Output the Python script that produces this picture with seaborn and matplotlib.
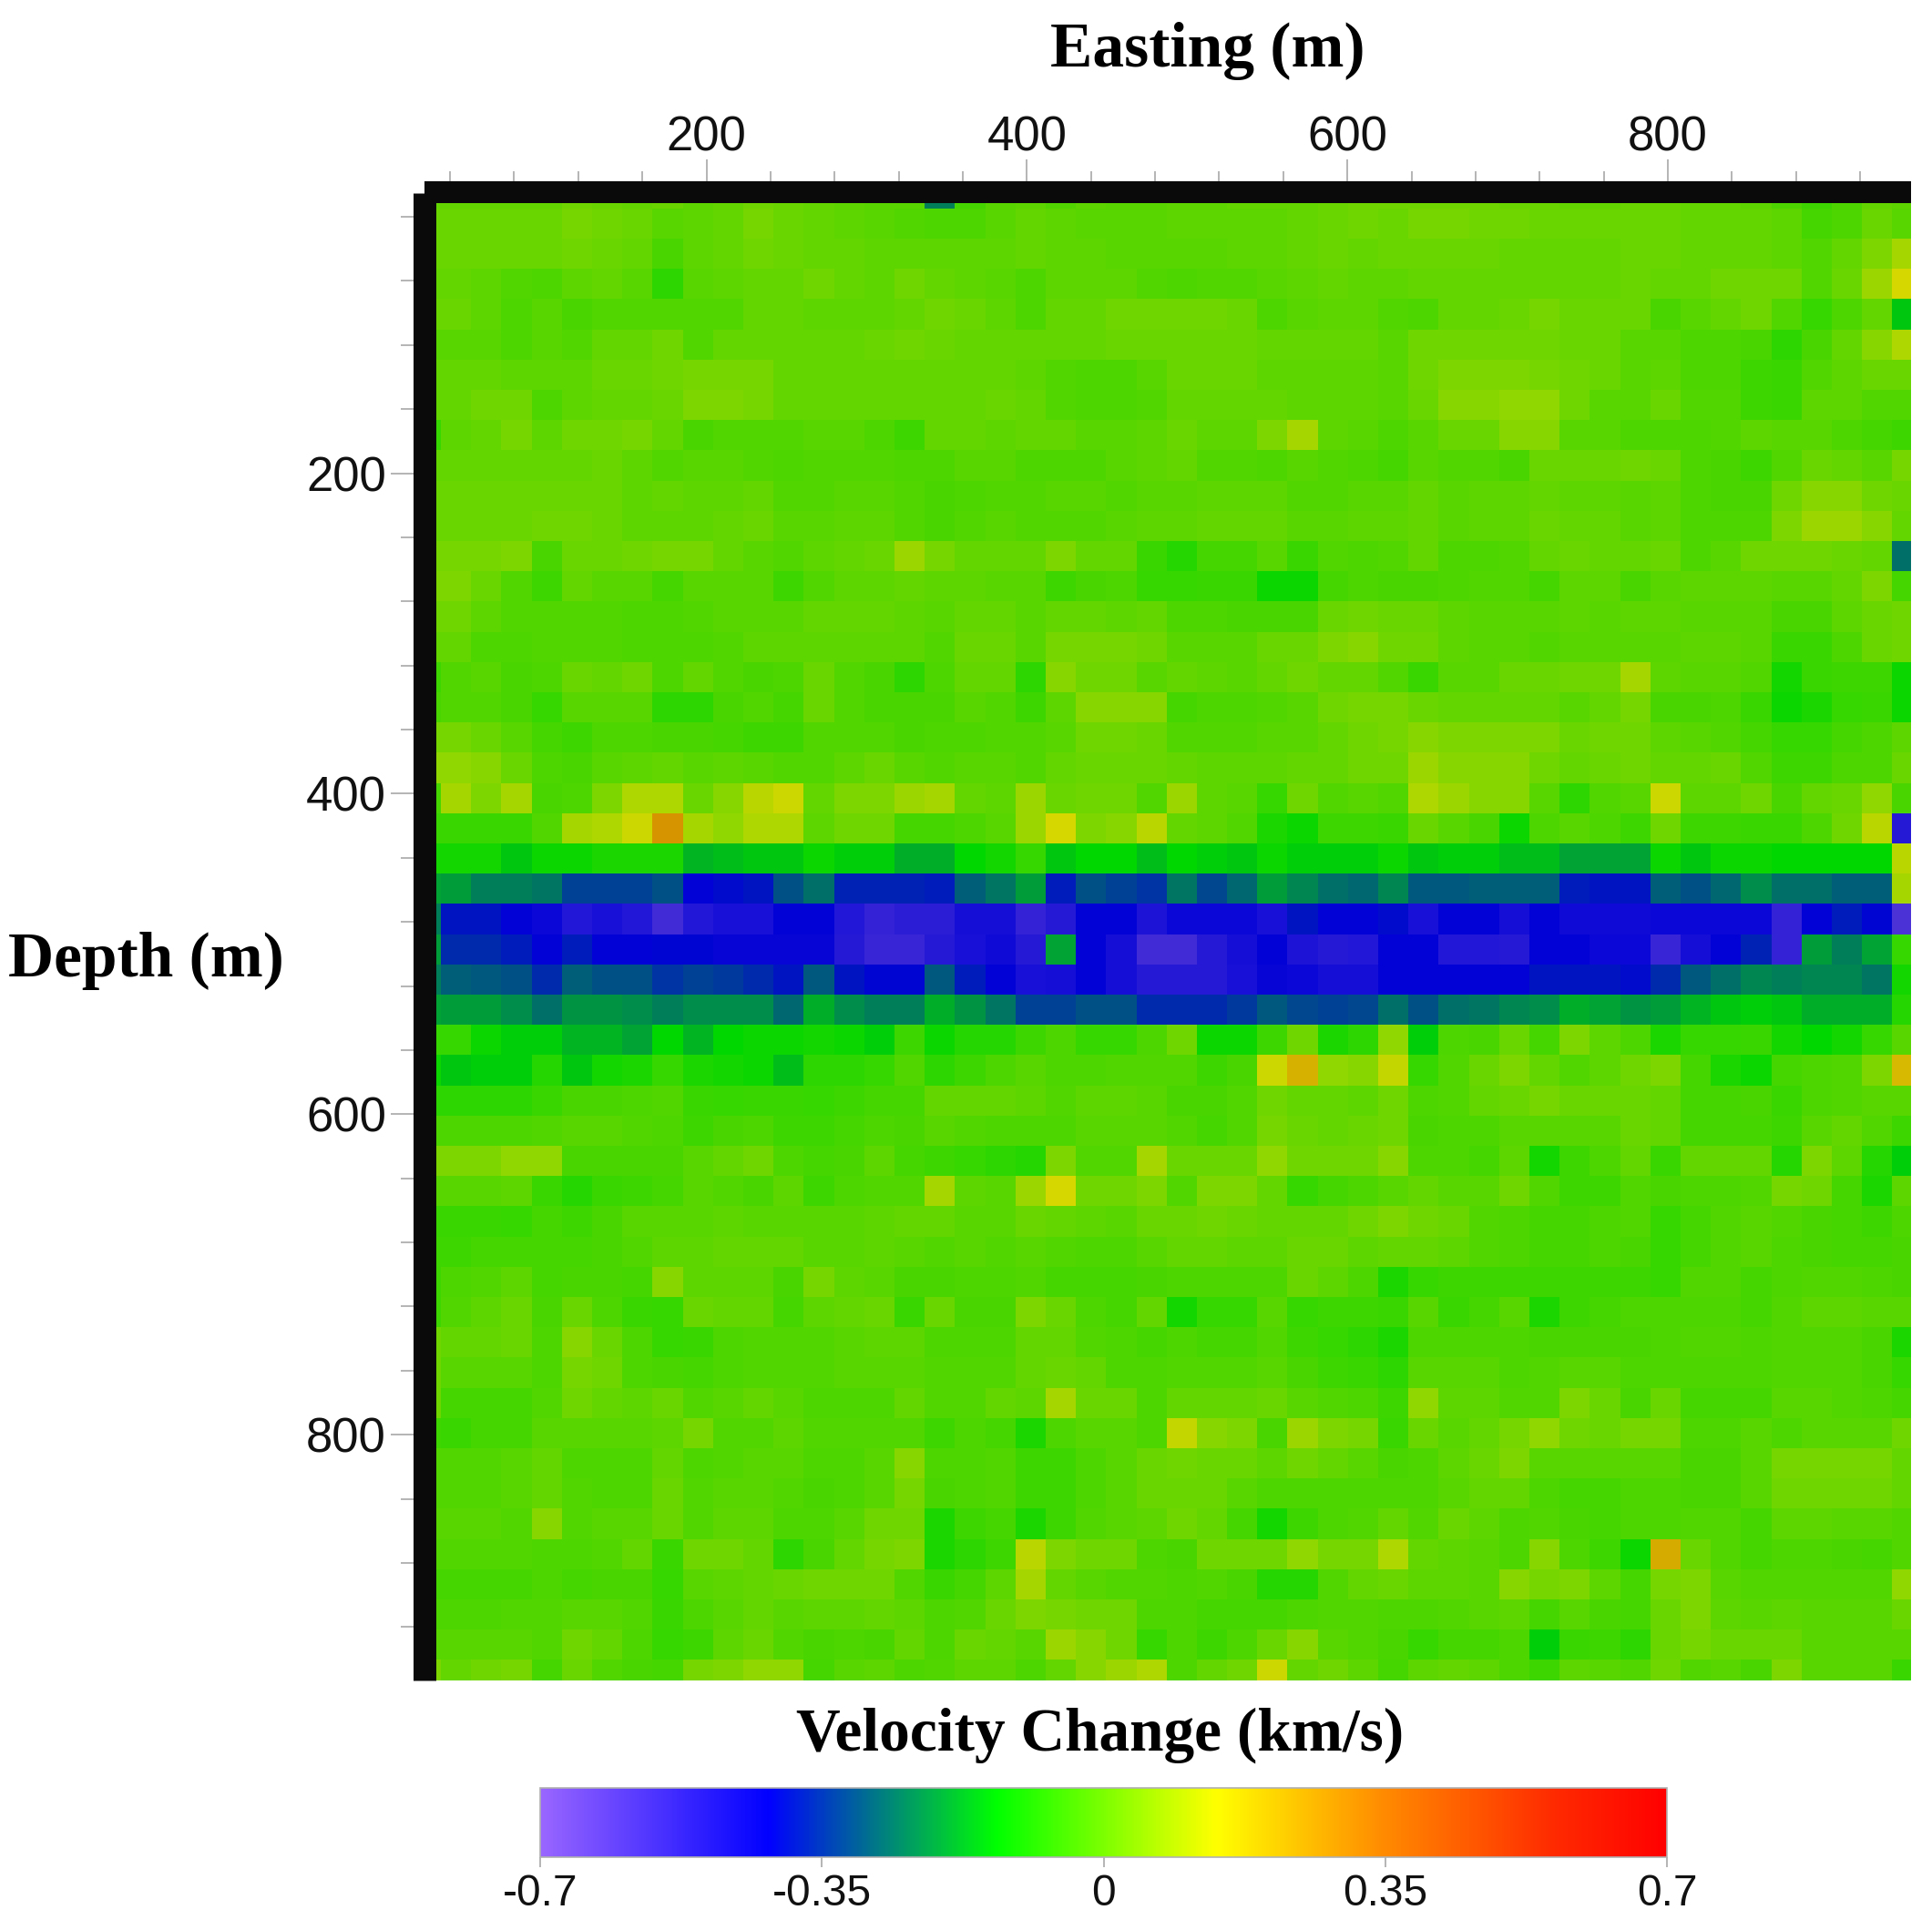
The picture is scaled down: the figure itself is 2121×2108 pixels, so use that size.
import numpy as np
import pandas as pd
import seaborn as sns
import matplotlib
matplotlib.use("Agg")
import matplotlib.pyplot as plt
from matplotlib.cm import ScalarMappable
from matplotlib.colors import LinearSegmentedColormap, ListedColormap, Normalize

# velocity change, in 1/100 km/s, one list per depth row
dv_top = [
    [1,1,1,1,1,3,2,1,2,0,1,3,2,1,0,-1,-1,-25,-5,-1,0,-2,0,-1,-1, 0,0,1,1,1,2,3,3,3,3,3,2,2,1,1,2,2,1,1,0,-3,-6,-3,1,0],
    [2,2,2,2,2,4,3,2,-1,0,1,4,2,1,0,-1,-2,-3,-3,-1,1,0,-1,-1,-1, 0,0,0,0,1,2,3,2,4,4,3,3,2,2,2,2,2,1,1,1,0,-5,-3,2,-1],
    [2,2,2,2,2,3,2,1,-4,0,1,3,2,1,1,0,0,0,0,0,1,0,0,-1,-1, -1,-1,0,0,1,2,1,2,2,2,2,1,1,1,1,2,2,1,1,1,0,-2,1,5,9],
    [1,1,0,-2,-3,0,1,-1,-9,-1,0,1,1,3,1,0,3,1,0,-1,-3,0,0,0,-2, -3,-2,-2,-1,0,1,0,0,1,1,1,1,1,1,1,2,1,1,3,3,3,-2,2,8,14],
    [2,2,0,-3,-1,-4,-2,-2,-2,-2,-2,1,1,0,0,0,1,3,2,0,-3,1,1,3,3, 3,3,2,-3,-1,0,0,-2,-3,1,1,2,4,2,2,2,-4,-1,1,3,-2,-8,-3,1,-16],
    [-1,-1,-1,-3,-1,-2,1,1,3,-2,1,1,1,1,1,2,3,2,1,1,1,1,1,2,2, 2,2,2,1,1,1,1,-1,3,3,3,3,3,2,2,-1,-1,-3,-3,-4,-9,-4,1,6,10],
    [1,1,1,0,0,0,2,2,3,4,4,4,1,1,1,1,1,1,1,1,0,-2,-3,-3,-1, 2,2,2,0,0,0,0,-1,3,5,5,5,4,3,2,-1,0,-3,-3,-6,-7,-2,0,2,2],
    [1,1,3,3,-3,0,1,1,2,5,5,4,1,1,1,1,1,1,1,2,1,-2,-3,-3,-2, 1,1,1,1,0,0,0,-1,2,6,6,7,7,3,-1,-1,2,-2,-2,-6,-7,0,0,-2,-2],
    [-8,0,1,4,0,3,3,4,1,-4,-2,-2,-2,-1,-1,-3,-6,1,1,0,1,1,-1,-1,0, 2,0,0,5,9,0,-1,-3,-1,2,2,6,6,-1,-1,-3,-3,-3,-2,0,-1,-1,-3,-5,-6],
    [1,1,1,1,1,1,2,0,-2,-1,-1,-2,-3,-2,-2,-2,-3,-3,-1,-1,-3,-3,-3,-1,0, 1,-2,-2,-3,-1,-2,-3,-5,-1,-2,-2,-4,2,2,2,3,2,-3,-4,-6,-2,2,1,-1,4],
    [2,2,2,2,2,2,2,0,1,0,0,1,-2,-2,-1,-1,-2,-4,-3,-2,-2,-1,-1,-2,-1, -1,0,0,0,-2,-2,-1,-1,1,-1,0,0,1,0,0,-1,0,-3,-4,-4,3,6,6,3,2],
    [2,2,2,2,3,3,2,0,0,0,1,2,-1,-1,0,0,-2,-4,-2,-1,-2,-2,-2,-1,0, 0,1,1,1,-1,-1,0,0,1,-1,0,0,2,1,1,-1,0,-3,-3,-3,5,8,8,6,1],
    [4,4,4,5,-4,2,2,3,4,4,1,-1,-2,0,1,2,8,4,1,1,1,5,1,1,-7, -10,-5,-5,-1,-7,-2,-3,-2,1,-3,-3,-2,1,2,1,1,2,-3,-1,3,3,3,2,1,-27],
    [5,5,2,-2,-6,1,-1,-1,-5,-1,-1,-1,-6,-2,0,0,1,0,0,-1,-1,-6,-4,-3,-8, -8,-7,-7,-13,-13,-5,-3,-4,-4,-3,-2,-2,-5,0,0,-4,-1,0,0,0,-1,-1,1,5,-5],
    [3,3,0,-2,-2,-2,-2,-3,-3,-2,-1,-1,-1,1,1,1,0,-1,1,1,-1,1,1,0,1, -3,-3,-4,-4,-4,2,3,2,2,0,-1,-1,-1,0,-1,0,0,-1,-1,-1,-4,-4,0,2,3],
    [1,1,-3,-3,-2,-2,-2,-3,-3,-3,-2,0,0,0,0,0,0,-2,2,2,-1,4,4,4,3, -1,-1,-1,2,2,5,6,3,3,0,-1,-1,-2,-1,-1,-1,-1,0,0,-1,-7,-7,-3,2,3],
    [-6,-2,-1,-4,-3,2,1,3,-3,1,-2,-4,-3,2,-2,-4,-9,-3,1,1,-9,6,3,3,-1, 1,0,-1,1,3,1,1,-2,-7,-1,-1,2,2,3,3,9,0,-1,-1,-2,-12,-7,-6,-6,-13],
    [-4,-2,-2,-4,-8,-1,-1,-1,-9,-9,-4,-2,-5,2,-2,-4,-4,-4,-1,-2,-6,0,6,6,6, -5,-3,-3,-2,-1,3,4,4,2,1,1,1,1,-1,1,4,-4,-4,-3,-7,-13,-11,-8,-7,-13],
    [4,4,2,-1,-5,-6,-3,-3,-4,-4,-5,-6,-6,-2,-2,-2,-4,-3,-3,-2,-2,-1,3,3,2, -2,-2,-2,-1,-1,1,3,4,6,5,5,5,5,2,3,3,0,-1,-2,-5,-8,-8,-5,-3,0],
    [7,7,6,2,-3,-4,-1,0,1,-1,0,-1,-2,-2,0,2,-1,-2,-1,-1,-2,1,2,2,2, 1,0,0,0,1,1,3,3,8,6,6,6,3,1,2,3,1,1,2,-2,-6,-6,-3,-3,2],
    [-5,9,5,9,-4,-3,5,10,10,2,6,11,13,1,5,5,8,9,1,0,8,2,3,3,-2, 8,0,-1,-8,3,-2,-1,-2,10,8,6,6,-1,-9,-2,-1,13,0,0,3,-4,1,2,7,-4],
    [-7,-7,-7,-7,-2,9,10,13,28,9,7,10,10,0,3,3,-5,-5,-3,-1,8,14,5,6,11, 1,0,-2,-11,-13,-6,-6,-7,2,-1,-4,-13,-3,-1,-3,-6,3,-6,-6,-7,-7,-3,3,11,-50],
    [-12,-12,-12,-16,-13,-13,-11,-11,-11,-18,-17,-16,-16,-13,-15,-15,-19,-19,-14,-12,-8,-16,-14,-14,-17, -14,-15,-16,-13,-15,-15,-15,-13,-16,-15,-15,-17,-17,-20,-20,-20,-13,-16,-13,-13,-14,-14,-14,-14,11],
]

dv_band = [
    [-20,-21,-25,-25,-26,-33,-33,-33,-31,-42,-40,-39,-31,-27,-37,-37,-37,-38,-29,-26,-21,-38,-31,-33,-35, -26,-32,-28,-21,-24,-27,-28,-24,-30,-30,-29,-29,-29,-38,-39,-39,-29,-31,-28,-23,-27,-27,-29,-29,9],
    [-25,-39,-39,-42,-44,-49,-47,-49,-56,-49,-47,-47,-42,-42,-49,-53,-51,-51,-46,-46,-53,-50,-42,-42,-48, -44,-44,-44,-47,-39,-42,-42,-40,-47,-42,-42,-46,-42,-45,-45,-45,-44,-44,-44,-44,-53,-42,-38,-41,-58],
    [-21,-36,-36,-38,-42,-38,-42,-42,-41,-41,-43,-43,-43,-43,-50,-54,-54,-50,-47,-45,-50,-20,-42,-46,-56, -56,-50,-46,-42,-48,-50,-49,-42,-42,-49,-49,-50,-42,-42,-44,-44,-54,-46,-42,-37,-53,-21,-25,-20,-8],
    [-25,-29,-30,-31,-36,-29,-31,-31,-35,-33,-34,-36,-39,-30,-39,-41,-41,-30,-38,-42,-47,-46,-42,-46,-50, -50,-50,-47,-43,-44,-46,-46,-42,-42,-42,-42,-42,-39,-39,-39,-40,-36,-30,-27,-24,-25,-24,-24,-26,-12],
    [-20,-21,-21,-23,-27,-22,-22,-23,-25,-23,-23,-23,-28,-19,-23,-25,-25,-19,-22,-26,-33,-33,-31,-31,-36, -36,-36,-34,-30,-32,-33,-32,-27,-31,-27,-26,-24,-23,-19,-20,-22,-21,-18,-16,-15,-16,-19,-19,-19,-10],
]

dv_bottom = [
    [-8,-8,-13,-15,-15,-18,-18,-20,-14,-18,-14,-13,-13,-12,-13,-15,-6,-13,-10,-10,-6,-3,-8,-8,-3, 3,-13,-13,-6,3,-11,-9,7,-15,-3,-4,2,-5,5,0,-3,-11,-8,-8,-7,-12,-14,-12,-8,-1],
    [-13,-16,-15,-15,-10,-16,-12,-11,-8,-11,-12,-13,-17,-9,-9,-8,-2,-9,-6,-3,-1,-3,-3,-2,-2, -2,-6,-4,13,22,7,6,12,-8,-2,2,5,1,-2,0,3,5,-5,-11,-13,-5,-3,-2,5,20],
    [-9,-9,-9,-9,-7,-4,-4,-3,-2,-7,-8,-7,-7,-8,-6,-5,-5,1,1,1,0,-2,0,0,-1, -4,-4,-2,3,1,1,0,3,-3,-2,1,2,4,2,2,2,1,-5,-5,-4,-7,-3,-2,-1,-1],
    [-3,-3,-3,-3,-2,-1,-1,-2,-3,-6,-4,-3,-6,-6,-5,-3,-4,-1,-2,-3,-3,-3,-1,-1,-1, -2,-5,-2,4,2,1,2,3,-4,-3,-3,-1,-1,-1,-1,2,1,-5,-5,-5,-6,-1,1,-2,-6],
    [5,5,5,7,7,-4,-4,-4,-4,-1,1,3,-3,-5,-4,0,-5,-6,-8,-9,-10,5,-2,-2,9, 2,2,2,7,3,3,3,6,-3,-3,-5,0,-12,-6,-3,1,-7,1,1,1,-10,5,0,-10,-15],
    [-1,-1,-1,0,-7,-10,-7,-6,-5,-1,-2,-4,0,-6,-3,-2,-2,9,0,-1,8,14,3,3,5, -2,5,5,1,-8,-5,-3,-1,1,-1,-1,3,-2,-6,-6,-2,-4,-3,-3,-2,4,3,-5,-11,0],
    [-7,-7,-7,-8,-5,-6,-4,-1,-1,-1,0,-1,-1,-1,-1,0,1,1,-1,-1,2,1,0,-1,2, 2,3,2,1,1,1,3,5,3,2,-2,-3,-5,-5,-3,-2,-8,-5,-2,-1,-2,-4,-5,-6,-3],
    [-6,-6,-5,-5,-5,-5,-4,-2,0,0,1,1,1,-1,-1,0,-1,-2,-1,-2,-1,-2,-3,-3,-1, 1,1,0,0,2,2,0,1,1,0,-2,-3,-5,-5,-3,-4,-8,-5,-2,-1,-3,-4,-5,-5,-4],
    [-6,-3,-2,0,-5,-4,-4,-5,6,0,0,0,-4,4,0,-1,-4,-4,-3,-3,-2,-5,-5,-5,-4, -3,-3,-3,-3,2,0,-3,-11,-8,-6,-6,-6,-6,-6,-6,-6,-8,-2,-2,-5,-3,-2,-2,-3,-4],
    [-6,-2,0,2,-4,2,-3,-7,-8,2,1,1,-5,0,1,2,-7,2,-4,-4,5,2,-3,-5,1, -12,-8,-8,-1,-8,-6,-6,-7,-1,-7,-5,-1,-11,-6,-5,-3,-3,-3,-3,-5,-2,0,0,-1,-1],
    [3,1,1,2,-3,6,2,-3,-8,-7,-3,-2,-2,-2,-1,0,0,-3,-3,-3,1,1,-2,-3,-5, -3,-5,-5,-2,-6,-8,-9,-11,-3,-3,-3,-3,-4,-4,-4,-4,-3,-2,-2,-3,-2,-2,-2,-4,-11],
    [3,-1,-1,-1,-3,4,3,-3,-4,-5,-3,-2,-2,-2,-1,-1,-1,-2,-2,-2,1,2,1,-3,-3, -2,-2,-2,-1,-4,-6,-7,-9,-1,-1,-1,-3,-2,-1,-1,-3,-3,-3,-3,-3,-2,-2,-2,-4,-8],
    [3,-5,-5,-5,-2,3,1,0,2,-2,-1,1,-1,-3,-3,-3,1,-2,-2,1,0,9,2,2,-3, 1,1,1,2,-1,-2,-3,-6,7,0,0,-2,-2,5,2,-4,2,-5,-5,-5,-1,-1,-2,-3,-5],
    [-6,-7,-5,-5,-1,-1,-1,-1,0,4,-2,-2,0,-2,-2,-2,-2,-6,-3,-5,-11,-3,-1,-1,-3, 12,6,5,-4,8,5,4,-7,2,-1,1,4,7,3,2,4,4,-3,-3,-1,-3,-1,-1,-1,3],
    [-2,-2,-2,-1,1,-3,-3,-3,1,-3,-2,-1,-1,-3,-3,-1,6,-3,-3,-2,-6,-6,-3,-1,2, 3,2,2,0,3,1,-1,-4,-3,0,2,5,-1,-1,-1,-1,-1,-4,-4,-1,4,4,4,4,1],
    [-2,-2,-2,-1,1,-2,-3,-3,2,-2,-1,-1,-2,-4,-3,-1,4,-4,-3,-2,-6,-6,-3,-1,2, 2,2,-1,-3,-3,-3,-3,-3,-3,-1,1,1,-3,-5,-5,-3,-3,-4,-4,-1,3,3,3,3,1],
    [-1,-1,-1,-2,6,-2,-1,-1,2,-2,0,0,-3,-3,-1,3,3,-11,-6,-5,-11,-6,-2,-1,0, 3,1,-5,-12,-6,-3,-2,1,-2,2,0,-3,-2,-4,-5,-3,-3,-2,-2,-5,0,0,-1,-1,-2],
    [-2,-2,-2,-2,-3,-3,-2,1,-7,3,3,1,-9,-4,1,4,5,-11,-9,-6,11,5,3,3,-3, -4,3,3,3,7,4,4,10,1,0,-1,-3,6,-3,-6,-13,23,2,-2,-5,-3,-3,-4,-5,-2],
    [-5,-5,-5,-5,-3,-5,-4,-4,-8,-1,0,1,2,3,3,3,-2,-7,-5,0,9,1,-1,-2,-2, -3,-2,-4,-10,-10,-2,1,2,0,0,-1,6,4,5,0,-5,4,5,-1,-2,-2,-2,-2,-2,7],
    [-3,-3,-3,-2,-2,-1,-1,-2,-7,-3,-1,1,-1,0,0,1,0,-3,-2,2,5,4,3,3,-3, -3,-5,-5,-5,-3,-2,-2,-3,-3,-2,-1,0,-5,-1,-4,-5,2,5,0,-1,0,-1,-1,-1,2],
    [-1,-1,-1,-1,-2,3,1,-3,-8,-6,0,2,-2,-4,-3,-4,1,-3,2,1,-1,8,6,3,-8, -3,-6,-3,2,6,-1,-2,-4,-8,-5,-5,-3,-15,-7,-6,-9,2,4,2,2,2,-1,-1,-1,-1],
    [5,1,3,4,-5,2,-2,-4,-5,4,5,7,7,-5,-1,0,-3,-2,0,0,-3,1,6,8,10, -3,1,3,13,1,3,0,-5,0,1,0,-3,-6,0,-1,-2,3,-2,-1,-4,5,-1,-1,-1,-7],
]

# my eye read the faint greens too far apart, this pulls the readings back
read_levels = [-60, -20, -13, -8, -4, 0, 2, 5, 8, 14, 30]
true_levels = [-60, -20, -12, -6.5, -4, -1.5, 0, 2.5, 6.5, 14, 30]

# colour bar
bar_ticks = [-0.7, -0.35, 0, 0.35, 0.7]
bar_labels = ["-0.7", "-0.35", "0", "0.35", "0.7"]

# axes ticks, metres
major_ticks = [200, 400, 600, 800]
minor_ticks = [40, 80, 120, 160, 240, 280, 320, 360, 440, 480, 520, 560, 640, 680, 720, 760, 840, 880, 920]

dv = np.interp(np.array(dv_top + dv_band + dv_bottom), read_levels, true_levels) / 100.0
df = pd.DataFrame(dv)

# cell grid in metres
x_start, y_start, cell = 15.4, 15.9, 18.87

W, H = 2121, 2108


def px_x(p):
    return p / W


def px_y(p):
    return 1 - p / H


def px_pt(p):
    return p * 0.72


stops = [(0.0, "#9966ff"), (0.2025, "#0000ff"), (0.405, "#00ff00"), (0.6, "#ffff00"),
         (0.75, "#ff8a00"), (0.9, "#ff2a00"), (1.0, "#ff0000")]
bright = LinearSegmentedColormap.from_list("velocity", stops, N=512)
# the map itself is a bit darker than its bar
shaded = bright(np.linspace(0, 1, 512))
shaded[:, :3] *= 0.84
dark = ListedColormap(shaded)

plt.rcParams["font.family"] = ["Liberation Sans", "DejaVu Sans"]

fig = plt.figure(figsize=(W / 100, H / 100), dpi=100)
ax = fig.add_axes([px_x(479), px_y(1845), (2098 - 479) / W, (1845 - 222.5) / H])

sns.heatmap(df, cmap=dark, vmin=-0.7, vmax=0.7, cbar=False, ax=ax,
            xticklabels=False, yticklabels=False)
ax.set_xlim(0.85, 49.62)
ax.set_ylim(49.68, 0.81)
ax.set_xlabel("")
ax.set_ylabel("")

# black frame, left and top only
for side in ["right", "bottom"]:
    ax.spines[side].set_visible(False)
ax.spines["top"].set_visible(True)
ax.spines["left"].set_visible(True)
ax.spines["top"].set_linewidth(px_pt(24))
ax.spines["left"].set_linewidth(px_pt(25))
ax.spines["top"].set_color("#0a0a0a")
ax.spines["left"].set_color("#0a0a0a")
ax.spines["top"].set_capstyle("butt")
ax.spines["left"].set_capstyle("butt")
ax.spines["top"].set_position(("outward", px_pt(12)))
ax.spines["left"].set_position(("outward", px_pt(13.5)))
ax.spines["top"].set_bounds(0.46, 49.62)
ax.spines["left"].set_bounds(49.68, 0.49)

ax.xaxis.tick_top()
ax.set_xticks([(v - x_start) / cell for v in major_ticks])
ax.set_xticks([(v - x_start) / cell for v in minor_ticks], minor=True)
ax.set_yticks([(v - y_start) / cell for v in major_ticks])
ax.set_yticks([(v - y_start) / cell for v in minor_ticks], minor=True)
ax.set_xticklabels(major_ticks, fontsize=38, color="#111111", rotation=0)
ax.set_yticklabels(major_ticks, fontsize=38, color="#111111", rotation=0)

tick_col = "#a0a0a0"
ax.tick_params(axis="x", which="major", top=True, bottom=False, labeltop=True, labelbottom=False,
               length=px_pt(36.5), width=1.1, color=tick_col, pad=px_pt(-2))
ax.tick_params(axis="x", which="minor", top=True, bottom=False,
               length=px_pt(23.5), width=1.1, color=tick_col)
ax.tick_params(axis="y", which="major", left=True, right=False,
               length=px_pt(37.5), width=1.1, color=tick_col, pad=px_pt(4))
ax.tick_params(axis="y", which="minor", left=True, right=False,
               length=px_pt(26.5), width=1.1, color=tick_col)

serif = {"family": ["Liberation Serif", "DejaVu Serif"], "weight": "bold",
         "color": "black", "ha": "center", "va": "center"}
fig.text(px_x(1326), px_y(56), "Easting (m)", fontsize=50, **serif)
fig.text(px_x(160), px_y(1055), "Depth (m)", fontsize=50, **serif)
fig.text(px_x(1208), px_y(1905), "Velocity Change (km/s)", fontsize=48.5, **serif)

cax = fig.add_axes([px_x(593), px_y(2039), (1830 - 593) / W, (2039 - 1963) / H])
cb = fig.colorbar(ScalarMappable(norm=Normalize(-0.7, 0.7), cmap=bright), cax=cax,
                  orientation="horizontal", ticks=bar_ticks)
cb.ax.set_xticklabels(bar_labels, fontsize=34.5, color="#111111")
cb.ax.tick_params(length=px_pt(11), width=1.1, color=tick_col, pad=px_pt(7))
cb.outline.set_edgecolor("#b0b0b0")
cb.outline.set_linewidth(1.2)

fig.savefig("out.png", dpi=100)
